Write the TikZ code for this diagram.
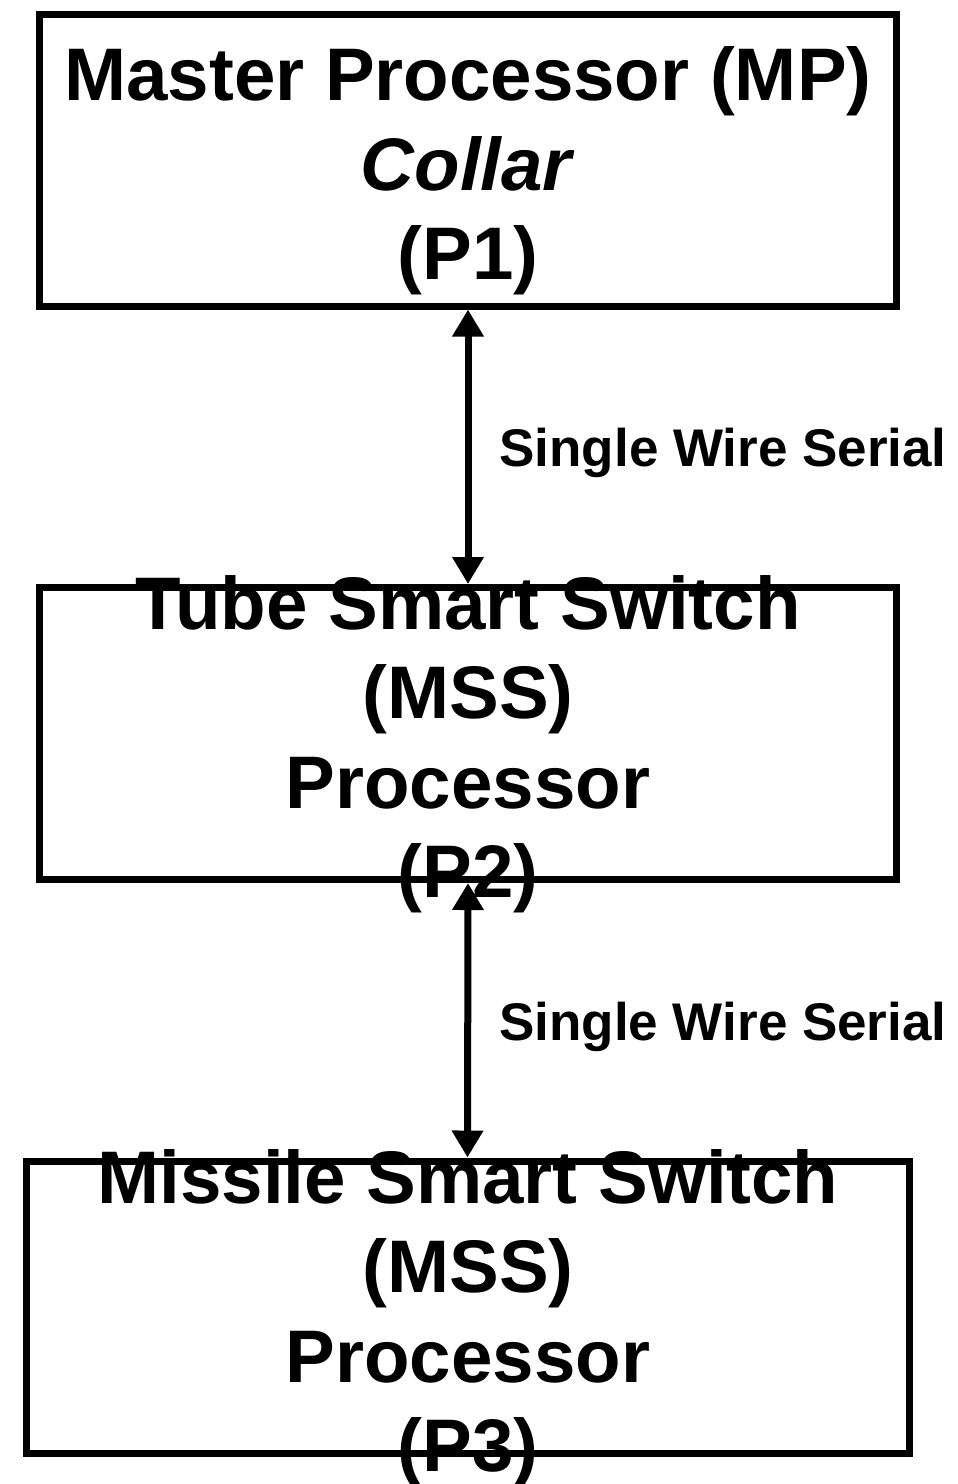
\documentclass[tikz,border=0pt]{standalone}
\usepackage{fontspec}
\setmainfont{Liberation Sans}
\usepackage{tikz}
\usetikzlibrary{positioning,arrows.meta}

\begin{document}
\begin{tikzpicture}[
  x=1pt, y=-1pt,
  procbox/.style={rectangle, draw=black, fill=none, line width=7pt,
                  minimum width=#1, minimum height=292pt, inner sep=0pt},
  procbox/.default=857pt,
  proctext/.style={font=\fontsize{74.5}{89.5}\selectfont\bfseries,
                   align=center, inner sep=0pt},
  link/.style={{Triangle[length=27pt, width=30pt]}-{Triangle[length=27pt, width=30pt]},
               line width=7pt, color=black},
  lbl/.style={font=\fontsize{53}{60}\selectfont\bfseries, inner sep=0pt},
]
  \useasboundingbox (0,0) rectangle (958,1484);

  % Processor boxes
  \node[procbox] (mp) at (468,160) {};
  \node[procbox] (tss) at (468,733.5) {};
  \node[procbox=883pt] (mss) at (467.5,1307) {};

  % Box texts (they run over the frames)
  \node[proctext] (mptext) at (468,171) {Master Processor (MP)\\\textit{Collar}\\(P1)};
  \node[proctext] (tsstext) at (468,744) {Tube Smart Switch\\(MSS)\\Processor\\(P2)};
  \node[proctext] (msstext) at (468,1318) {Missile Smart Switch\\(MSS)\\Processor\\(P3)};

  % Serial links
  \draw[link] (mp.south) -- node[lbl, anchor=base west, xshift=28pt, yshift=-20pt] {Single Wire Serial} (tss.north);
  \draw[link] (tss.south) -- node[lbl, anchor=base west, xshift=28pt, yshift=-20pt] {Single Wire Serial} (mss.north);
\end{tikzpicture}
\end{document}
